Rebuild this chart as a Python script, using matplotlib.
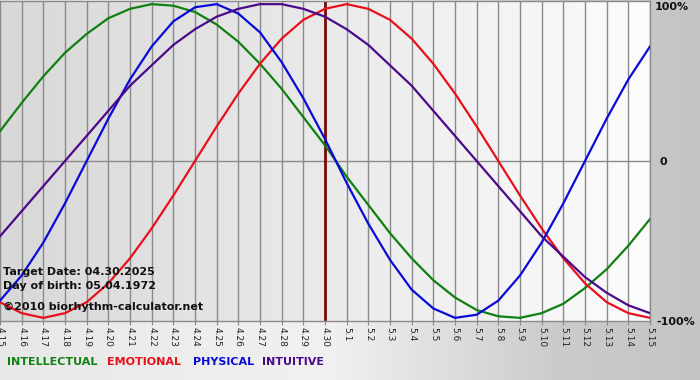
import numpy as np
import matplotlib
matplotlib.use("Agg")
import matplotlib.pyplot as plt
from matplotlib.colors import to_rgb

# ---------------- data ----------------
dates = ["4.15", "4.16", "4.17", "4.18", "4.19", "4.20", "4.21", "4.22", "4.23",
         "4.24", "4.25", "4.26", "4.27", "4.28", "4.29", "4.30", "5.1", "5.2",
         "5.3", "5.4", "5.5", "5.6", "5.7", "5.8", "5.9", "5.10", "5.11", "5.12",
         "5.13", "5.14", "5.15"]
target_label = "4.30"

physical = [-0.89, -0.73, -0.52, -0.27, 0.00, 0.27, 0.52, 0.73, 0.89, 0.98, 1.00,
            0.94, 0.82, 0.63, 0.40, 0.14, -0.14, -0.40, -0.63, -0.82, -0.94, -1.00,
            -0.98, -0.89, -0.73, -0.52, -0.27, 0.00, 0.27, 0.52, 0.73]
emotional = [-0.90, -0.97, -1.00, -0.97, -0.90, -0.78, -0.62, -0.43, -0.22, 0.00,
             0.22, 0.43, 0.62, 0.78, 0.90, 0.97, 1.00, 0.97, 0.90, 0.78, 0.62, 0.43,
             0.22, 0.00, -0.22, -0.43, -0.62, -0.78, -0.90, -0.97, -1.00]
intellectual = [0.19, 0.37, 0.54, 0.69, 0.81, 0.91, 0.97, 1.00, 0.99, 0.95, 0.87,
                0.76, 0.62, 0.46, 0.28, 0.10, -0.10, -0.28, -0.46, -0.62, -0.76,
                -0.87, -0.95, -0.99, -1.00, -0.97, -0.91, -0.81, -0.69, -0.54, -0.37]
intuitive = [-0.48, -0.32, -0.16, 0.00, 0.16, 0.32, 0.48, 0.61, 0.74, 0.84, 0.92,
             0.97, 1.00, 1.00, 0.97, 0.92, 0.84, 0.74, 0.61, 0.48, 0.32, 0.16, 0.00,
             -0.16, -0.32, -0.48, -0.61, -0.74, -0.84, -0.92, -0.97]

series_names = ["INTELLECTUAL", "EMOTIONAL", "PHYSICAL", "INTUITIVE"]
series_colors = ["#108010", "#e8101c", "#0a0ad8", "#4a0a8a"]
info_lines = ["Target Date: 04.30.2025", "Day of birth: 05.04.1972",
              "\u00a92010 biorhythm-calculator.net"]
right_labels = ["100%", "0", "-100%"]

# ---------------- figure ----------------
W, H = 700, 380
fig = plt.figure(figsize=(W / 100, H / 100), dpi=100)

def px(x, y):
    return x / W, 1 - y / H

# figure background gradient (horizontal)
bg = fig.add_axes([0, 0, 1, 1], zorder=0)
xs = np.linspace(0, W, 400)
stops_x = [0, 330, 560, 700]
stops_c = [to_rgb("#e8e8e8"), to_rgb("#f1f1f1"), to_rgb("#cbcbcb"), to_rgb("#c4c4c4")]
row = np.stack([np.interp(xs, stops_x, [c[i] for c in stops_c]) for i in range(3)], axis=-1)
bg.imshow(row[None, :, :], extent=[0, 1, 0, 1], aspect="auto")
bg.axis("off")

# plot axes
left, top = 0, 1
right, bottom = 650, 321
ax = fig.add_axes([left / W, 1 - bottom / H, (right - left) / W, (bottom - top) / H], zorder=1)
ax.patch.set_visible(False)

# plot-area gradient
grad = np.stack([np.interp(np.linspace(0, 1, 300), [0, 1], [to_rgb("#d8d8d8")[i], to_rgb("#fcfcfc")[i]])
                 for i in range(3)], axis=-1)
ax.imshow(grad[None, :, :], extent=[0, len(dates) - 1, -1.02, 1.02], aspect="auto", zorder=0)

x = np.arange(len(dates))
ax.set_xlim(0, len(dates) - 1)
ax.set_ylim(-1.02, 1.02)

for xi in x:
    ax.axvline(xi, color="#8a8a8a", lw=1.0, zorder=1)
ax.axhline(0, color="#8a8a8a", lw=1.0, zorder=1)
ax.axvline(dates.index(target_label), color="#7a0a0a", lw=2.0, zorder=2)

for vals, col in zip([intellectual, emotional, physical, intuitive], series_colors):
    ax.plot(x, vals, color=col, lw=1.6, zorder=3, solid_joinstyle="round")

ax.spines["left"].set_visible(False)
for s in ["top", "bottom", "right"]:
    ax.spines[s].set_color("#8a8a8a")
    ax.spines[s].set_linewidth(1.0)

ax.set_yticks([])
ax.set_xticks(x)
ax.set_xticklabels(dates, rotation=270, fontsize=6.5, color="#222222", va="top", ha="center")
ax.tick_params(axis="x", length=3, color="#8a8a8a", pad=1)

# info texts
for (yy, t) in zip([272, 286, 307], info_lines):
    fig.text(*px(3, yy), t, fontsize=8, fontweight="bold", color="#111111",
             ha="left", va="center", zorder=5)

# right labels
fig.text(*px(655, 7), right_labels[0], fontsize=8, fontweight="bold", color="#111111", va="center", ha="left")
fig.text(*px(659, 162), right_labels[1], fontsize=8, fontweight="bold", color="#111111", va="center", ha="left")
fig.text(*px(656, 322), right_labels[2], fontsize=8, fontweight="bold", color="#111111", va="center", ha="left")

# legend texts
for xx, name, col in zip([7, 107, 193, 262], series_names, series_colors):
    fig.text(*px(xx, 362), name, fontsize=8, fontweight="bold", color=col, va="center", ha="left")

fig.savefig("out.png", dpi=100)
